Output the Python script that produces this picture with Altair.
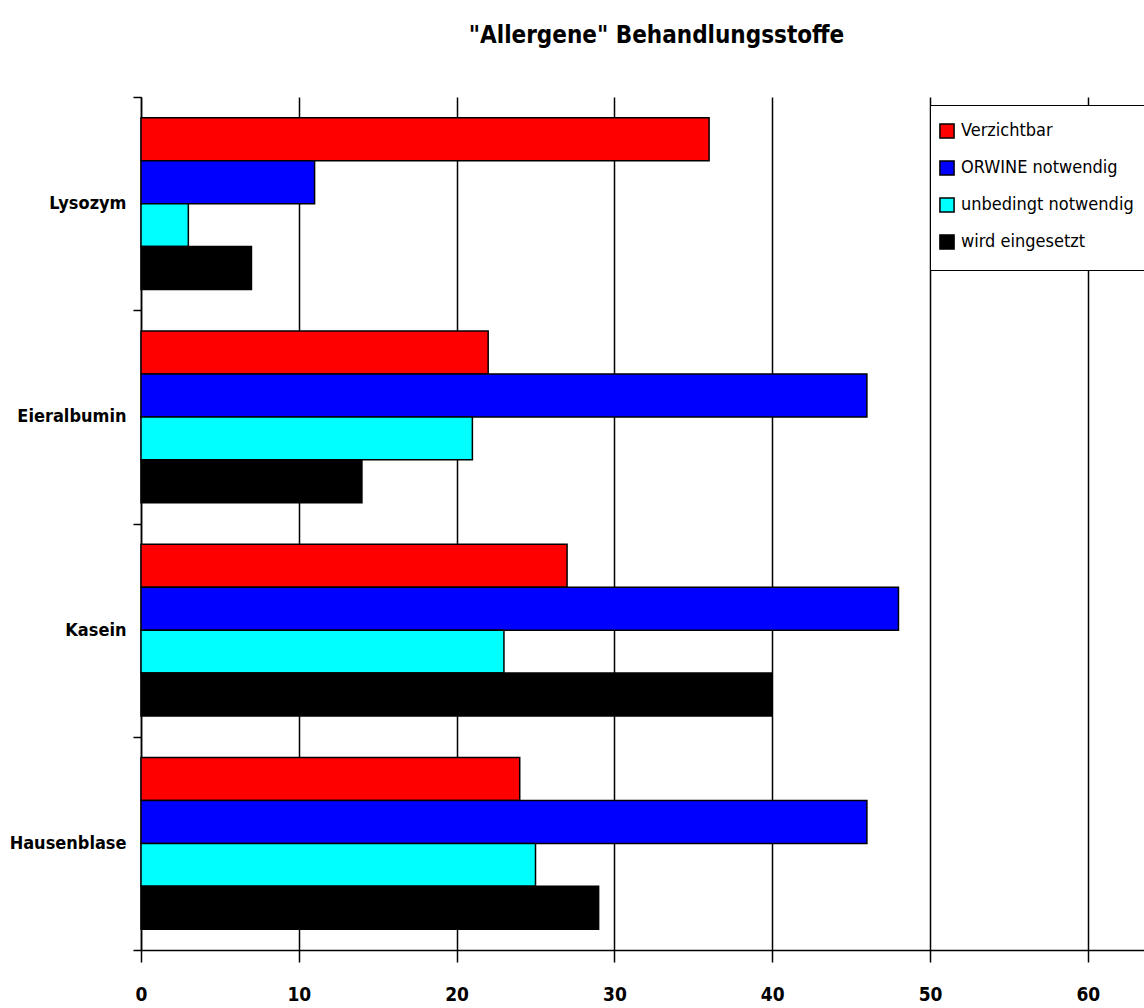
import altair as alt
import pandas as pd

categories = ["Lysozym", "Eieralbumin", "Kasein", "Hausenblase"]
series = ["Verzichtbar", "ORWINE notwendig", "unbedingt notwendig", "wird eingesetzt"]
colors = ["#FF0000", "#0000FF", "#00FFFF", "#000000"]

verzichtbar = [36, 22, 27, 24]
orwine = [11, 46, 48, 46]
unbedingt = [3, 21, 23, 25]
eingesetzt = [7, 14, 40, 29]

x_ticks = [0, 10, 20, 30, 40, 50, 60]

rows = []
for s, vals in zip(series, [verzichtbar, orwine, unbedingt, eingesetzt]):
    for c, v in zip(categories, vals):
        rows.append({"Stoff": c, "Serie": s, "Wert": v})
df = pd.DataFrame(rows)

FONT = "'Liberation Sans Narrow', 'DejaVu Sans Condensed', 'Liberation Sans', sans-serif"

chart = alt.Chart(df).mark_bar(stroke="black", strokeWidth=1.5).encode(
    y=alt.Y("Stoff:N", sort=categories, title=None,
            scale=alt.Scale(paddingInner=0, paddingOuter=0),
            axis=alt.Axis(tickBand="extent", tickSize=8, labelPadding=7,
                          labelFont=FONT, labelFontSize=18, labelFontWeight="bold",
                          labelColor="black", domainColor="black", tickColor="black",
                          domainWidth=1.5, tickWidth=1.5, grid=False)),
    yOffset=alt.YOffset("Serie:N", sort=series,
                        scale=alt.Scale(paddingInner=0, paddingOuter=0.48)),
    x=alt.X("Wert:Q", title=None,
            scale=alt.Scale(domain=[0, 63.56], nice=False, zero=True),
            axis=alt.Axis(values=x_ticks, tickSize=12, labelPadding=23,
                          labelFont=FONT, labelFontSize=19, labelFontWeight="bold",
                          labelColor="black", domainColor="black", tickColor="black",
                          domainWidth=1.5, tickWidth=1.5, labelFlush=False,
                          grid=True, gridColor="black", gridWidth=1.5, gridOpacity=1)),
    color=alt.Color("Serie:N", sort=series,
                    scale=alt.Scale(domain=series, range=colors),
                    legend=alt.Legend(title=None, orient="none", legendX=789, legendY=8,
                                      symbolType="square", symbolSize=200,
                                      symbolStrokeColor="black", symbolStrokeWidth=1.5,
                                      symbolOffset=-9,
                                      labelFont=FONT, labelFontSize=18, labelFontWeight="normal",
                                      labelColor="black", rowPadding=15, labelOffset=5,
                                      strokeColor="black", fillColor="white", padding=17,
                                      labelLimit=400, symbolOpacity=1)),
).properties(
    width=1003,
    height=853,
    title=alt.TitleParams('"Allergene"  Behandlungsstoffe', font=FONT, fontSize=24,
                          fontWeight="bold", color="black", anchor="middle",
                          dx=14, offset=40),
    autosize=alt.AutoSizeParams(type="none"),
    padding={"left": 141, "top": 97, "right": 0, "bottom": 58},
).configure_view(stroke=None)

chart.save("out.html", embed_options={"renderer": "svg", "actions": False})
